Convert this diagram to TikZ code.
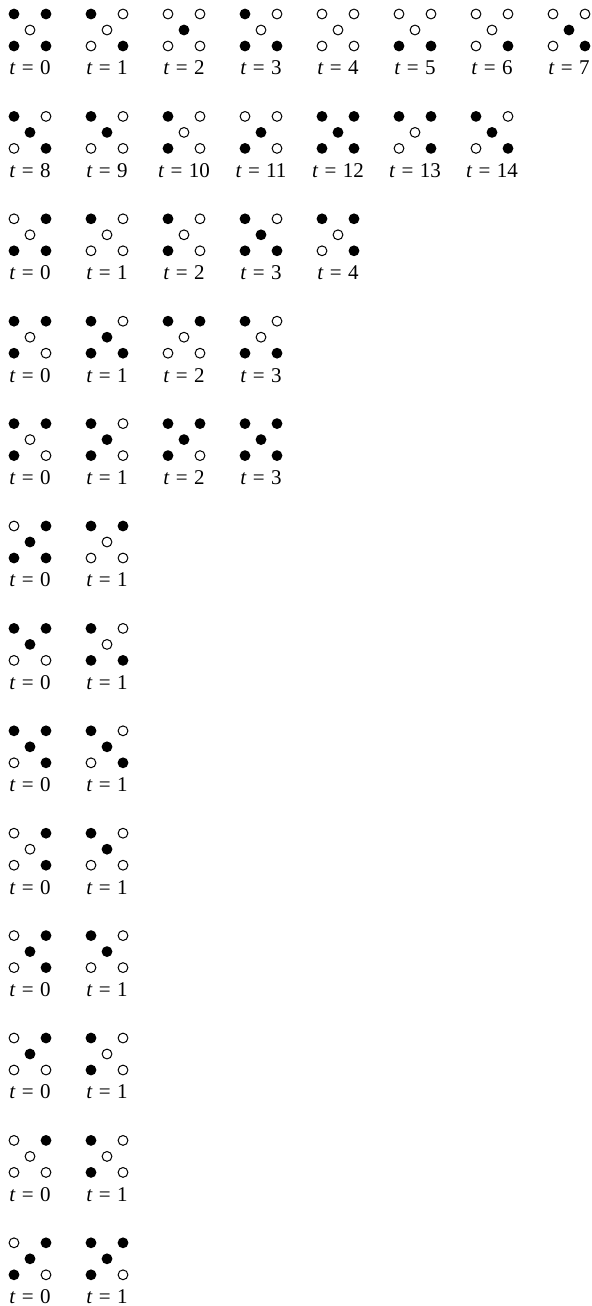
\documentclass[tikz,border=0pt]{standalone}
\usepackage{fontspec}
\setmainfont{Liberation Serif}
\tikzset{
  on/.style={circle,fill=black,inner sep=0pt,minimum size=5.4pt},
  off/.style={circle,draw=black,line width=0.5pt,inner sep=0pt,minimum size=4.9pt},
  dot/.code={\ifnum#1=1 \tikzset{on}\else\tikzset{off}\fi},
  tlabel/.style={font=\fontsize{10.5}{12}\selectfont,inner sep=0pt}
}
\begin{document}
\begin{tikzpicture}[x=0.5pt,y=-0.5pt]
\useasboundingbox (0,0) rectangle (592,1306);
% row / column / upper left, upper right, middle, lower left, lower right / time
\foreach \rw/\cl/\cA/\cB/\cC/\cD/\cE/\tv in {
  0/0/1/1/0/1/1/0, 0/1/1/0/0/0/1/1, 0/2/0/0/1/0/0/2, 0/3/1/0/0/1/1/3,
  0/4/0/0/0/0/0/4, 0/5/0/0/0/1/1/5, 0/6/0/0/0/0/1/6, 0/7/0/0/1/0/1/7,
  1/0/1/0/1/0/1/8, 1/1/1/0/1/0/0/9, 1/2/1/0/0/1/0/10, 1/3/0/0/1/1/0/11,
  1/4/1/1/1/1/1/12, 1/5/1/1/0/0/1/13, 1/6/1/0/1/0/1/14,
  2/0/0/1/0/1/1/0, 2/1/1/0/0/0/0/1, 2/2/1/0/0/1/0/2, 2/3/1/0/1/1/1/3,
  2/4/1/1/0/0/1/4,
  3/0/1/1/0/1/0/0, 3/1/1/0/1/1/1/1, 3/2/1/1/0/0/0/2, 3/3/1/0/0/1/1/3,
  4/0/1/1/0/1/0/0, 4/1/1/0/1/1/0/1, 4/2/1/1/1/1/0/2, 4/3/1/1/1/1/1/3,
  5/0/0/1/1/1/1/0, 5/1/1/1/0/0/0/1,
  6/0/1/1/1/0/0/0, 6/1/1/0/0/1/1/1,
  7/0/1/1/1/0/1/0, 7/1/1/0/1/0/1/1,
  8/0/0/1/0/0/1/0, 8/1/1/0/1/0/0/1,
  9/0/0/1/1/0/1/0, 9/1/1/0/1/0/0/1,
  10/0/0/1/1/0/0/0, 10/1/1/0/0/1/0/1,
  11/0/0/1/0/0/0/0, 11/1/1/0/0/1/0/1,
  12/0/0/1/1/1/0/0, 12/1/1/1/1/1/0/1}{
  \pgfmathsetmacro\px{30+77*\cl}
  \pgfmathsetmacro\py{14+102.4*\rw}
  \node[dot=\cA] (s\rw-\cl-ul) at (\px-16,\py) {};
  \node[dot=\cB] (s\rw-\cl-ur) at (\px+16,\py) {};
  \node[dot=\cC] (s\rw-\cl-m) at (\px,\py+16) {};
  \node[dot=\cD] (s\rw-\cl-ll) at (\px-16,\py+32) {};
  \node[dot=\cE] (s\rw-\cl-lr) at (\px+16,\py+32) {};
  \node[tlabel] (t\rw-\cl) at (\px,\py+54) {\textit{t}\hspace{0.3em}=\hspace{0.3em}\tv};
}
\end{tikzpicture}
\end{document}
